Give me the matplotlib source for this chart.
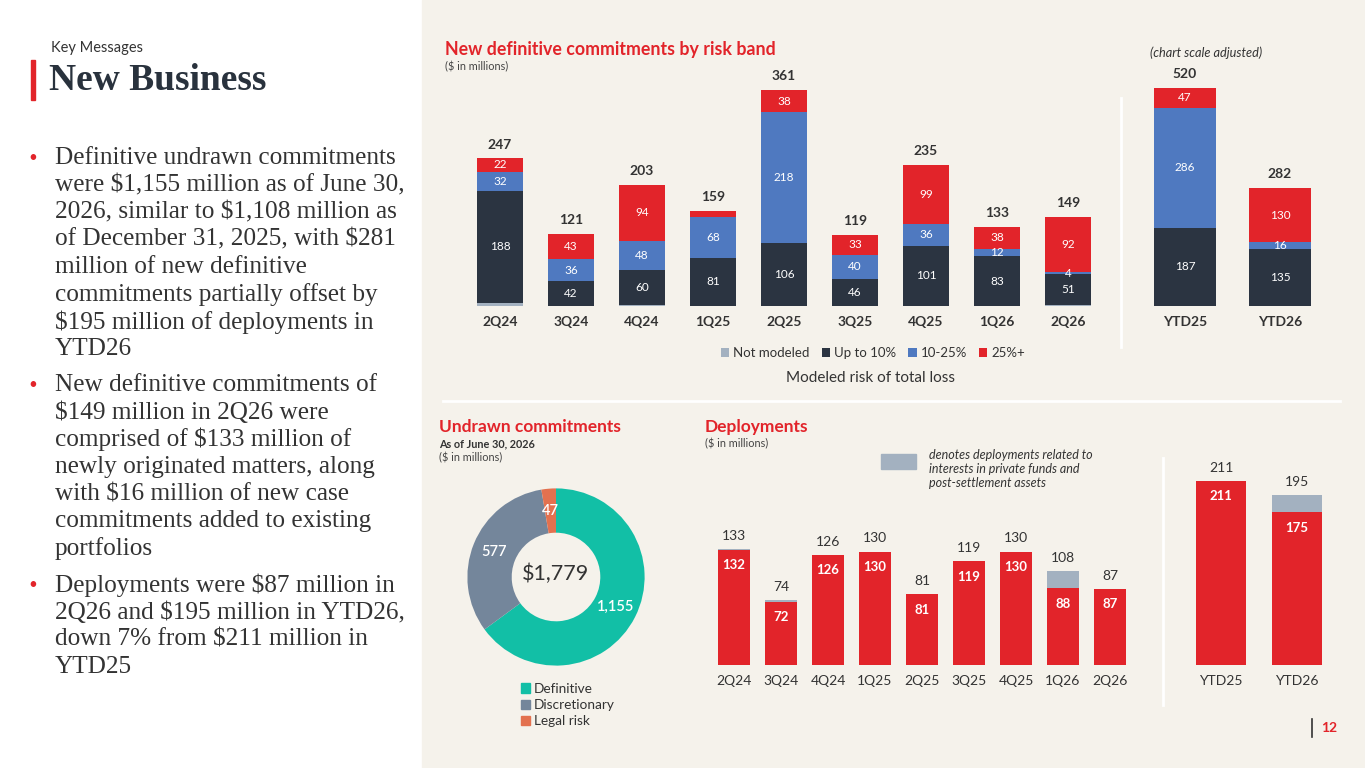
import matplotlib
matplotlib.use('Agg')
import matplotlib.pyplot as plt
import numpy as np
from matplotlib.lines import Line2D
from matplotlib.patches import Rectangle, Patch

plt.rcParams['font.family'] = ['Lato', 'DejaVu Sans']

W, H = 1365, 768

# new definitive commitments by risk band ($m)
quarters = ['2Q24', '3Q24', '4Q24', '1Q25', '2Q25', '3Q25', '4Q25', '1Q26', '2Q26']
not_modeled = [5, 0, 1, 0, 0, 0, 0, 0, 2]
up_to_10 = [188, 42, 60, 81, 106, 46, 101, 83, 51]
band_10_25 = [32, 36, 48, 68, 218, 40, 36, 12, 4]
band_25_plus = [22, 43, 94, 10, 38, 33, 99, 38, 92]
commit_totals = [247, 121, 203, 159, 361, 119, 235, 133, 149]

ytd = ['YTD25', 'YTD26']
ytd_not_modeled = [0, 1]
ytd_up_to_10 = [187, 135]
ytd_10_25 = [286, 16]
ytd_25_plus = [47, 130]
ytd_totals = [520, 282]

# undrawn commitments ($m)
undrawn_labels = ['Definitive', 'Discretionary', 'Legal risk']
undrawn_values = [1155, 577, 47]
undrawn_total = '$1,779'

# deployments ($m)
deploy_core = [132, 72, 126, 130, 81, 119, 130, 88, 87]
deploy_totals = [133, 74, 126, 130, 81, 119, 130, 108, 87]
ytd_deploy_core = [211, 175]
ytd_deploy_totals = [211, 195]

bullets = [
    ['Definitive undrawn commitments',
     'were $1,155 million as of June 30,',
     '2026, similar to $1,108 million as',
     'of December 31, 2025, with $281',
     'million of new definitive',
     'commitments partially offset by',
     '$195 million of deployments in',
     'YTD26'],
    ['New definitive commitments of',
     '$149 million in 2Q26 were',
     'comprised of $133 million of',
     'newly originated matters, along',
     'with $16 million of new case',
     'commitments added to existing',
     'portfolios'],
    ['Deployments were $87 million in',
     '2Q26 and $195 million in YTD26,',
     'down 7% from $211 million in',
     'YTD25'],
]

RED = '#E2242A'
NAVY = '#2B3441'
BLUE = '#4F79C0'
GREY = '#A3B1C0'
DARK = '#333333'
BEIGE = '#F5F2EB'

fig = plt.figure(figsize=(W / 100, H / 100), dpi=100)
fig.patch.set_facecolor('white')
fig.add_artist(Rectangle((422 / W, 0), 1 - 422 / W, 1, transform=fig.transFigure,
                         color=BEIGE, zorder=-10))


def px_axes(x0, y0, x1, y1):
    ax = fig.add_axes([x0 / W, 1 - y1 / H, (x1 - x0) / W, (y1 - y0) / H])
    ax.set_facecolor('none')
    for s in ax.spines.values():
        s.set_visible(False)
    ax.set_yticks([])
    ax.tick_params(axis='x', length=0)
    return ax


def ftext(x, y, s, **kw):
    kw.setdefault('va', 'center')
    return fig.text(x / W, 1 - y / H, s, **kw)


def fline(x0, y0, x1, y1, **kw):
    fig.add_artist(Line2D([x0 / W, x1 / W], [1 - y0 / H, 1 - y1 / H],
                          transform=fig.transFigure, **kw))


def stacked(ax, n, series, totals, width, skip=()):
    x = np.arange(n)
    bottom = np.zeros(n)
    for name, vals, color, show in series:
        vals = np.array(vals, dtype=float)
        ax.bar(x, vals, width, bottom=bottom, color=color, label=name)
        if show:
            for i, v in enumerate(vals):
                if v > 0 and (name, i) not in skip:
                    ax.text(i, bottom[i] + v / 2, f'{int(v)}', ha='center', va='center',
                            color='white', fontsize=8.5)
        bottom += vals
    for i, t in enumerate(totals):
        ax.annotate(f'{t}', (i, bottom[i]), xytext=(0, 10), textcoords='offset points',
                    ha='center', va='center', fontsize=10, fontweight='bold', color=DARK)


# ---- top: commitments by risk band
ax1 = px_axes(457.4, 60, 1110.6, 306)
stacked(ax1, 9, [('Not modeled', not_modeled, GREY, False),
                 ('Up to 10%', up_to_10, NAVY, True),
                 ('10-25%', band_10_25, BLUE, True),
                 ('25%+', band_25_plus, RED, True)],
        commit_totals, 0.66, skip={('25%+', 3)})
ax1.set_xlim(-0.6, 8.6)
ax1.set_ylim(0, 246 / 0.5975)
ax1.set_xticks(np.arange(9), quarters, fontsize=10, fontweight='bold', color=DARK)
ax1.tick_params(axis='x', pad=7)

ax2 = px_axes(1128, 60, 1337, 306)
stacked(ax2, 2, [('Not modeled', ytd_not_modeled, GREY, False),
                 ('Up to 10%', ytd_up_to_10, NAVY, True),
                 ('10-25%', ytd_10_25, BLUE, True),
                 ('25%+', ytd_25_plus, RED, True)],
        ytd_totals, 0.66)
ax2.set_xlim(-0.6, 1.6)
ax2.set_ylim(0, 246 / 0.419)
ax2.set_xticks(np.arange(2), ytd, fontsize=10, fontweight='bold', color=DARK)
ax2.tick_params(axis='x', pad=7)

h, l = ax1.get_legend_handles_labels()
fig.legend(h, l, loc='center', bbox_to_anchor=(873 / W, 1 - 353 / H), ncol=4,
           frameon=False, fontsize=9.5, handlelength=0.65, handleheight=0.65,
           handletextpad=0.3, columnspacing=0.9, labelcolor=DARK)
ftext(871, 378, 'Modeled risk of total loss', ha='center', fontsize=11, color=DARK)

ftext(445, 50, 'New definitive commitments by risk band', color=RED, fontsize=12.8,
      fontweight='bold')
ftext(445, 67, '($ in millions)', fontsize=7.8, color='#444444')
ftext(1150, 53, '(chart scale adjusted)', fontsize=9.2, style='italic', color=DARK)

# ---- bottom left: undrawn commitments donut
ax5 = fig.add_axes([456 / W, 1 - 677 / H, 200 / W, 200 / H])
colors = ['#12BFA6', '#74869B', '#E3714F']
ax5.pie(undrawn_values, colors=colors, startangle=90, counterclock=False, radius=0.886,
        wedgeprops=dict(width=0.443, edgecolor='none'))
ax5.set_xlim(-1, 1)
ax5.set_ylim(-1, 1)
ax5.set_aspect('equal')
ax5.axis('off')
tot = sum(undrawn_values)
cum = 0
for v in undrawn_values:
    ang = np.deg2rad(90 - 360 * (cum + v / 2) / tot)
    ax5.text(0.665 * np.cos(ang), 0.665 * np.sin(ang), f'{v:,}', ha='center', va='center',
             color='white', fontsize=10.5, fontweight='semibold')
    cum += v
ax5.text(0, 0.03, undrawn_total, ha='center', va='center', fontsize=15.5, color=DARK)
fig.legend([Patch(color=c) for c in colors], undrawn_labels, loc='upper left',
           bbox_to_anchor=(514 / W, 1 - 676 / H), frameon=False, fontsize=9.8,
           handlelength=0.65, handleheight=0.65, handletextpad=0.3, labelspacing=0.3,
           borderpad=0, labelcolor=DARK)

ftext(439, 427, 'Undrawn commitments', color=RED, fontsize=12.5, fontweight='bold')
ftext(439, 444, 'As of June 30, 2026', fontsize=7.8, fontweight='bold', color=DARK)
ftext(439, 458, '($ in millions)', fontsize=7.8, color='#444444')


# ---- bottom right: deployments
def deploy(ax, core, totals, width):
    x = np.arange(len(core))
    core = np.array(core)
    extra = np.array(totals) - core
    ax.bar(x, core, width, color=RED)
    ax.bar(x, extra, width, bottom=core, color=GREY)
    for i in x:
        ax.annotate(f'{core[i]}', (i, core[i]), xytext=(0, -11), textcoords='offset points',
                    ha='center', va='center', fontsize=9.5, fontweight='bold', color='white')
        ax.annotate(f'{totals[i]}', (i, totals[i]), xytext=(0, 9.5),
                    textcoords='offset points', ha='center', va='center', fontsize=10,
                    color=DARK)


ax3 = px_axes(705.8, 440, 1138.2, 665)
deploy(ax3, deploy_core, deploy_totals, 0.68)
ax3.set_xlim(-0.6, 8.6)
ax3.set_ylim(0, 225 / 0.872)
ax3.set_xticks(np.arange(9), quarters, fontsize=10, color=DARK)
ax3.tick_params(axis='x', pad=7)

ax4 = px_axes(1175.4, 440, 1342.6, 665)
deploy(ax4, ytd_deploy_core, ytd_deploy_totals, 0.66)
ax4.set_xlim(-0.6, 1.6)
ax4.set_ylim(0, 225 / 0.872)
ax4.set_xticks(np.arange(2), ytd, fontsize=10, color=DARK)
ax4.tick_params(axis='x', pad=7)

ftext(705, 427, 'Deployments', color=RED, fontsize=12.5, fontweight='bold')
ftext(705, 444, '($ in millions)', fontsize=7.8, color='#444444')
fig.add_artist(Rectangle((881 / W, 1 - 469 / H), 35 / W, 15 / H, transform=fig.transFigure,
                         color=GREY))
for k, line in enumerate(['denotes deployments related to', 'interests in private funds and',
                          'post-settlement assets']):
    ftext(929, 455 + 14 * k, line, fontsize=9, style='italic', color=DARK)

# separators
fline(1121, 98, 1121, 347, color='white', lw=2)
fline(1163, 458, 1163, 705, color='white', lw=2)
fline(443, 401, 1340, 401, color='white', lw=2)

# ---- left text panel
ftext(51, 48, 'Key Messages', fontsize=10.5, color=DARK)
fig.add_artist(Rectangle((31 / W, 1 - 100 / H), 4 / W, 40 / H, transform=fig.transFigure,
                         color=RED))
ftext(49, 81, 'New Business', fontsize=27, fontweight='bold', color='#29323D',
      family='Liberation Serif')
for start, lines in zip([158, 385, 585], bullets):
    ftext(33, start, '•', fontsize=11, color=RED, ha='center')
    for k, line in enumerate(lines):
        ftext(55, start + 27.3 * k, line, fontsize=18.2, color='#333333',
              family='Liberation Serif')

# page number
fline(1312, 719, 1312, 737, color=DARK, lw=1.2)
ftext(1329, 728, '12', fontsize=10, fontweight='bold', color=RED, ha='center')

fig.savefig('out.png', dpi=100, facecolor=fig.get_facecolor())
